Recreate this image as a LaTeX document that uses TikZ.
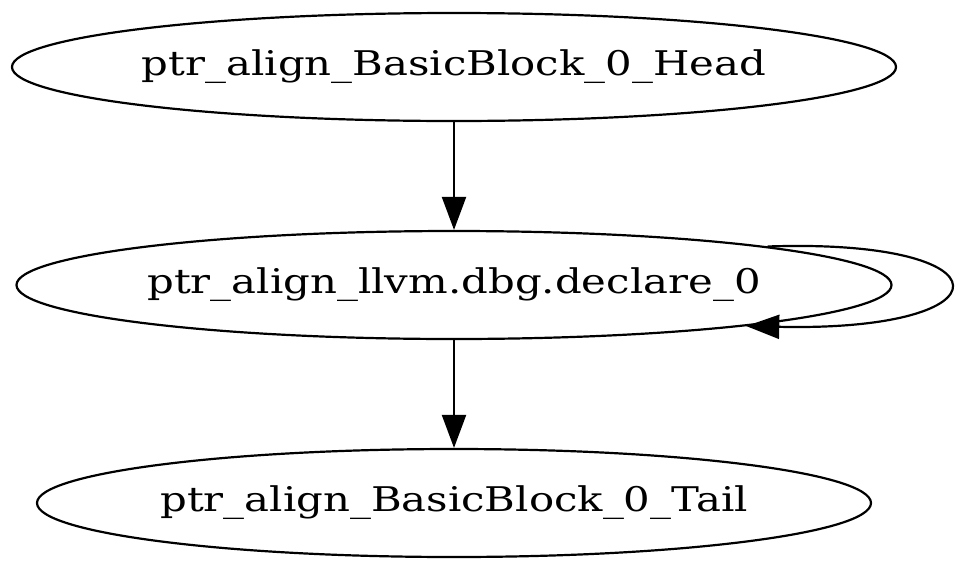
\documentclass[tikz,border=0pt]{standalone}
\usepackage{fontspec}
\setmainfont[FakeStretch=1.23]{DejaVu Serif}
\usetikzlibrary{shapes.geometric,arrows.meta}
\tikzset{every picture/.style={>={Triangle[length=33pt,width=24pt]}},
  blk/.style={draw,ellipse,line width=2.2pt,inner xsep=-30pt,inner ysep=0pt,
    minimum height=108pt,font=\fontsize{34}{40}\selectfont}}

\begin{document}
\begin{tikzpicture}[x=1pt,y=-1pt,line width=2.2pt]
  \useasboundingbox (0,0) rectangle (960,571);
  \node (head) [blk,minimum width=884pt] at (454,67) {ptr\_align\_BasicBlock\_0\_Head};
  \node (decl) [blk,minimum width=875pt] at (454,285) {ptr\_align\_llvm.dbg.declare\_0};
  \node (tail) [blk,minimum width=834pt] at (454,503) {ptr\_align\_BasicBlock\_0\_Tail};
  \draw [->] (head) -- (decl);
  \draw [->] (decl.7) .. controls (1013,238) and (1013,332) .. (decl.352);
  \draw [->] (decl) -- (tail);
\end{tikzpicture}
\end{document}
